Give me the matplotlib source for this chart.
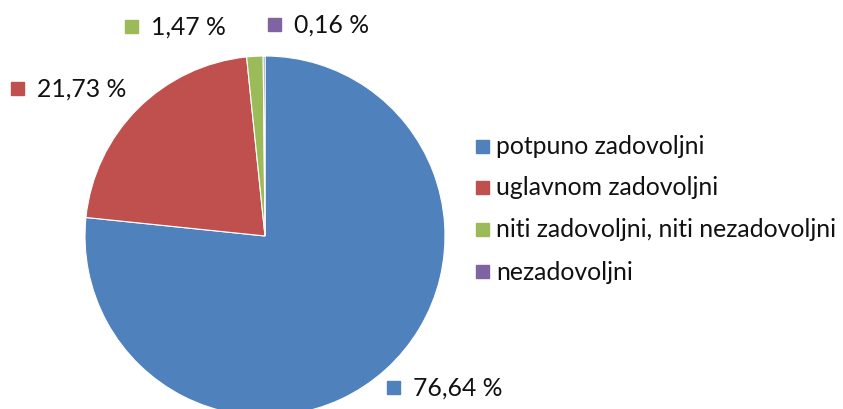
import matplotlib.pyplot as plt
from matplotlib.patches import Rectangle

categories = ["potpuno zadovoljni", "uglavnom zadovoljni",
              "niti zadovoljni, niti nezadovoljni", "nezadovoljni"]
values = [76.64, 21.73, 1.47, 0.16]
colors = ["#4F81BD", "#C0504D", "#9BBB59", "#8064A2"]

# where each value label goes (pixel coords, y from top)
label_pos = [(387, 388), (11, 89), (125, 27), (268, 25)]

W, H = 843, 410
fig = plt.figure(figsize=(W / 100, H / 100), dpi=100)
ax = fig.add_axes([0, 0, 1, 1])
plt.rcParams['font.family'] = ['Lato', 'DejaVu Sans']

ax.pie(values, colors=colors, startangle=90, counterclock=False,
       center=(265, H - 237), radius=180,
       wedgeprops=dict(edgecolor="white", linewidth=0.8))
ax.set_xlim(0, W)
ax.set_ylim(0, H)
ax.set_aspect("equal")
ax.axis("off")

sq = 13
fs = 17.8


def marker_text(x, y, color, text):
    ax.add_patch(Rectangle((x, H - y - sq / 2), sq, sq, color=color,
                           clip_on=False))
    ax.text(x + sq + 13, H - y, text, fontsize=fs, va="center", ha="left",
            color="#111111")


for (x, y), v, c in zip(label_pos, values, colors):
    marker_text(x, y, c, f"{v:.2f} %".replace(".", ","))

# legend
leg_y = [147, 188, 230, 272]
for y, name, c in zip(leg_y, categories, colors):
    ax.add_patch(Rectangle((476, H - y - sq / 2), sq, sq, color=c))
    ax.text(496, H - y, name, fontsize=fs, va="center", ha="left",
            color="#111111")

fig.savefig("out.png", dpi=100)
